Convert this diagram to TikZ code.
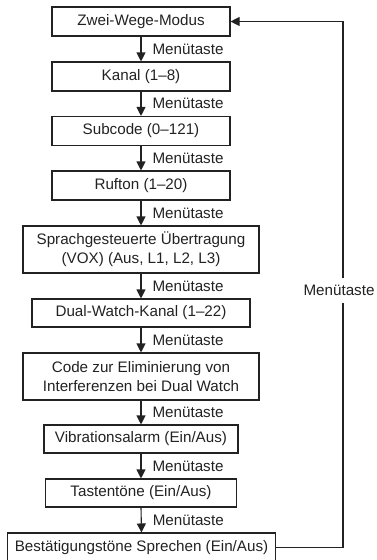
\documentclass[tikz,border=0pt]{standalone}
\usepackage{fontspec}
\setmainfont{Liberation Sans}
\usetikzlibrary{arrows.meta}
\definecolor{ink}{HTML}{222222}
\begin{document}
\begin{tikzpicture}[x=1pt,y=-1pt,
  font=\fontsize{15.2}{19}\selectfont,
  box/.style={draw=ink,line width=1.1pt,text=ink,rectangle,inner sep=0pt,align=center,anchor=center},
  flow/.style={draw=ink,line width=1.1pt,-{Triangle[width=9pt,length=9pt]}},
  lbl/.style={text=ink,anchor=west,inner sep=0pt}]
\useasboundingbox (0,0) rectangle (376,560);
\node[box,minimum width=178pt,minimum height=29pt] (z) at (141,21.5) {Zwei-Wege-Modus};
\node[box,minimum width=178pt,minimum height=29pt] (k) at (141,76.5) {Kanal (1–8)};
\node[box,minimum width=178pt,minimum height=29pt] (s) at (141,131) {Subcode (0–121)};
\node[box,minimum width=178pt,minimum height=29pt] (r) at (141,185.5) {Rufton (1–20)};
\node[box,minimum width=236pt,minimum height=47pt] (v) at (141,249.5) {Sprachgesteuerte Übertragung\\(VOX) (Aus, L1, L2, L3)};
\node[box,minimum width=218pt,minimum height=28pt] (d) at (141,313) {Dual-Watch-Kanal (1–22)};
\node[box,minimum width=236pt,minimum height=47pt] (c) at (141,376.5) {Code zur Eliminierung von\\Interferenzen bei Dual Watch};
\node[box,minimum width=194pt,minimum height=28pt] (vb) at (141,439) {Vibrationsalarm (Ein/Aus)};
\node[box,minimum width=191pt,minimum height=28pt] (t) at (141,493) {Tastentöne (Ein/Aus)};
\node[box,minimum width=268pt,minimum height=29pt] (b) at (141.5,547.5) {Bestätigungstöne Sprechen (Ein/Aus)};
\foreach \a/\b in {z/k,k/s,s/r,r/v,v/d,d/c,c/vb,vb/t,t/b}{
  \draw[flow] (\a.south) -- (\b.north) node[lbl,midway,xshift=11pt] {Menütaste};
}
\coordinate (br) at (343,547.5);
\coordinate (tr) at (343,21.5);
\draw[flow] (b.east) -- (br) -- (tr) -- (z.east);
\node[text=ink,fill=white,inner xsep=0pt,minimum height=25pt] (m) at (339,290.5) {Menütaste};
\end{tikzpicture}
\end{document}
